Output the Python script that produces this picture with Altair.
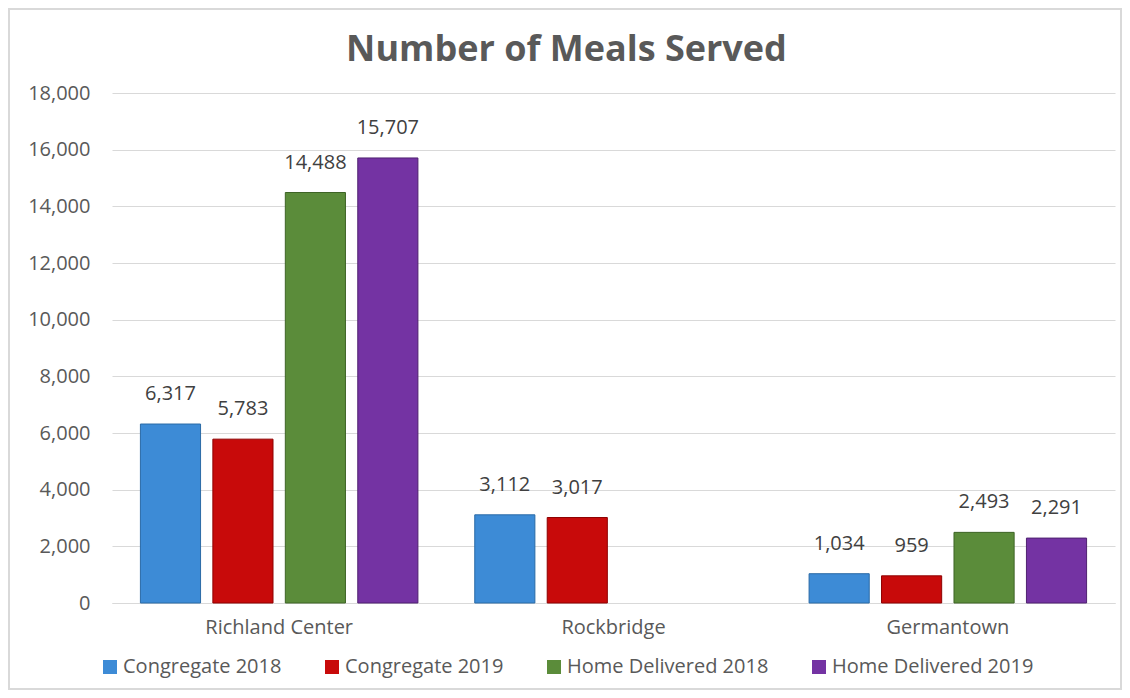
import altair as alt
import pandas as pd

# ---- data ----
categories = ["Richland Center", "Rockbridge", "Germantown"]
series = ["Congregate 2018", "Congregate 2019", "Home Delivered 2018", "Home Delivered 2019"]
congregate_2018 = [6317, 3112, 1034]
congregate_2019 = [5783, 3017, 959]
home_delivered_2018 = [14488, None, 2493]
home_delivered_2019 = [15707, None, 2291]
y_ticks = [0, 2000, 4000, 6000, 8000, 10000, 12000, 14000, 16000, 18000]

# ---- styles ----
colors = ["#3d8bd6", "#c80a0a", "#5b8c3a", "#7433a3"]
edges = ["#2a6aa6", "#8e0000", "#3e6426", "#4f2170"]
FONT = "Open Sans"
W, H = 1003, 510

rows = []
for s, vals in zip(series, [congregate_2018, congregate_2019, home_delivered_2018, home_delivered_2019]):
    for c, v in zip(categories, vals):
        if v is not None:
            rows.append({"site": c, "series": s, "meals": v})
df = pd.DataFrame(rows)

x = alt.X(
    "site:N",
    sort=categories,
    scale=alt.Scale(paddingInner=0.17, paddingOuter=0.085),
    axis=alt.Axis(
        title=None, labelAngle=0, ticks=False, domainColor="#d9d9d9", domainWidth=1,
        labelFont=FONT, labelFontSize=20, labelColor="#595959", labelPadding=14,
    ),
)
xo = alt.XOffset("series:N", sort=series, scale=alt.Scale(paddingInner=0.17, paddingOuter=0))
y = alt.Y(
    "meals:Q",
    scale=alt.Scale(domain=[0, 18000]),
    axis=alt.Axis(
        values=y_ticks, format=",.0f", title=None, domain=False, ticks=False,
        gridColor="#d9d9d9", gridWidth=1, labelFont=FONT, labelFontSize=20,
        labelColor="#595959", labelPadding=22,
    ),
)

bars = alt.Chart(df).mark_bar(strokeWidth=1).encode(
    x=x,
    xOffset=xo,
    y=y,
    color=alt.Color(
        "series:N",
        sort=series,
        scale=alt.Scale(domain=series, range=colors),
        legend=alt.Legend(
            title=None, orient="none", direction="horizontal", columns=4,
            legendX=-12, legendY=564, symbolType="square", symbolSize=196,
            symbolStrokeWidth=0, labelFont=FONT, labelFontSize=20, labelColor="#595959",
            labelOffset=3, columnPadding=40, labelLimit=0,
        ),
    ),
    stroke=alt.Stroke("series:N", scale=alt.Scale(domain=series, range=edges), legend=None),
)

labels = alt.Chart(df).mark_text(
    dy=-30, fontSize=20, font=FONT, color="#404040", baseline="middle"
).encode(
    x=x,
    xOffset=xo,
    y=alt.Y("meals:Q"),
    text=alt.Text("meals:Q", format=",.0f"),
)

frame = alt.Chart(pd.DataFrame({"a": [0]})).mark_rect(
    fillOpacity=0, stroke="#d9d9d9", strokeWidth=2
).encode(
    x=alt.value(-103), x2=alt.value(1009), y=alt.value(-84), y2=alt.value(596)
)

chart = (
    alt.layer(frame, bars, labels)
    .properties(
        width=W,
        height=H,
        autosize=alt.AutoSizeParams(type="none"),
        padding={"left": 104, "top": 85, "right": 7, "bottom": 87},
        title=alt.TitleParams(
            "Number of Meals Served", font=FONT, fontSize=36, fontWeight="bold",
            color="#595959", anchor="middle", dx=-47, offset=-61,
        ),
    )
    .configure_view(stroke=None)
)

chart.save("out.html", embed_options={"renderer": "svg", "actions": False})
